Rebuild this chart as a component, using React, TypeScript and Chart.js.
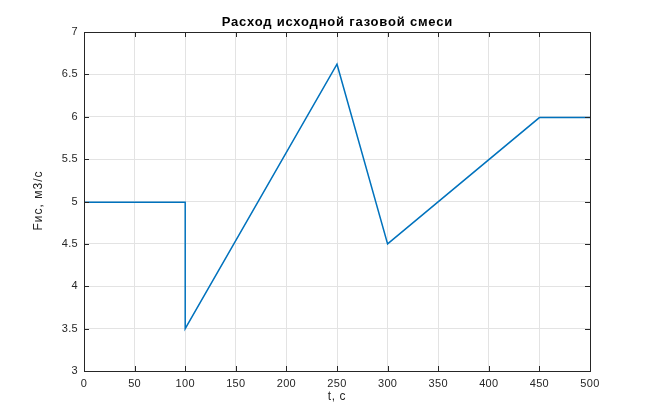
import React, { useEffect, useRef } from "react";
import { Chart, registerables } from "chart.js";

Chart.register(...registerables);

const timeS = [0, 100, 100, 250, 300, 450, 500];
const flowM3s = [4.99, 4.99, 3.5, 6.62, 4.5, 5.99, 5.99];
const xTicks = [0, 50, 100, 150, 200, 250, 300, 350, 400, 450, 500];
const yTicks = [3, 3.5, 4, 4.5, 5, 5.5, 6, 6.5, 7];
const titleText = "Расход исходной газовой смеси";
const xTitle = "t, c";
const yTitle = "Fис, м3/с";

const FONT = "Liberation Sans, Arial, Helvetica, sans-serif";

const decorPlugin = {
  id: "decor",
  beforeDraw(chart: any) {
    chart.ctx.letterSpacing = "0.3px";
  },
  afterDraw(chart: any) {
    const { ctx, chartArea } = chart;
    const { left, right, top, bottom } = chartArea;
    const xs = chart.scales.x;
    const ys = chart.scales.y;
    ctx.save();
    // inner ticks
    ctx.strokeStyle = "#262626";
    ctx.lineWidth = 1;
    const tl = 5;
    ctx.beginPath();
    for (const v of xTicks) {
      const px = Math.round(xs.getPixelForValue(v)) + 0.5;
      ctx.moveTo(px, bottom);
      ctx.lineTo(px, bottom - tl);
      ctx.moveTo(px, top);
      ctx.lineTo(px, top + tl);
    }
    for (const v of yTicks) {
      const py = Math.round(ys.getPixelForValue(v)) + 0.5;
      ctx.moveTo(left, py);
      ctx.lineTo(left + tl, py);
      ctx.moveTo(right, py);
      ctx.lineTo(right - tl, py);
    }
    ctx.stroke();
    // box
    ctx.strokeStyle = "#262626";
    ctx.strokeRect(Math.round(left) + 0.5, Math.round(top) + 0.5, Math.round(right - left), Math.round(bottom - top));
    // title
    ctx.fillStyle = "#000";
    ctx.font = `bold 13px ${FONT}`;
    ctx.letterSpacing = "0.8px";
    ctx.textAlign = "center";
    ctx.textBaseline = "middle";
    ctx.fillText(titleText, (left + right) / 2 + 0.4, 22.5);
    // x title
    ctx.fillStyle = "#262626";
    ctx.font = `12px ${FONT}`;
    ctx.letterSpacing = "0.6px";
    ctx.fillText(xTitle, (left + right) / 2, 397);
    // y title
    ctx.letterSpacing = "1px";
    ctx.translate(39, (top + bottom) / 2 - 1);
    ctx.rotate(-Math.PI / 2);
    ctx.fillText(yTitle, 0, 0);
    ctx.restore();
  },
};

export default function App() {
  const ref = useRef<HTMLCanvasElement>(null);
  useEffect(() => {
    document.body.style.margin = "0";
    const canvas = ref.current!;
    const chart = new Chart(canvas, {
      type: "scatter",
      data: {
        datasets: [
          {
            data: timeS.map((t, i) => ({ x: t, y: flowM3s[i] })),
            showLine: true,
            borderColor: "#0072BD",
            borderWidth: 1.5,
            pointRadius: 0,
            fill: false,
          },
        ],
      },
      options: {
        animation: false,
        responsive: false,
        maintainAspectRatio: false,
        layout: { padding: { left: 0, right: 62, top: 32, bottom: 0 } },
        plugins: { legend: { display: false }, tooltip: { enabled: false }, title: { display: false } },
        scales: {
          x: {
            type: "linear",
            min: 0,
            max: 500,
            afterBuildTicks: (s: any) => {
              s.ticks = xTicks.map((v) => ({ value: v }));
            },
            afterFit: (s: any) => {
              s.height = 46;
            },
            grid: { color: "#e3e3e3", drawTicks: false, lineWidth: 1 },
            border: { display: false },
            ticks: { color: "#262626", font: { family: FONT, size: 11 }, padding: 6, maxRotation: 0, autoSkip: false },
          },
          y: {
            type: "linear",
            min: 3,
            max: 7,
            afterBuildTicks: (s: any) => {
              s.ticks = yTicks.map((v) => ({ value: v }));
            },
            afterFit: (s: any) => {
              s.width = 84;
            },
            grid: { color: "#e3e3e3", drawTicks: false, lineWidth: 1 },
            border: { display: false },
            ticks: {
              color: "#262626",
              font: { family: FONT, size: 11 },
              padding: 6,
              autoSkip: false,
              callback: (v: any) => String(v),
            },
          },
        },
      },
      plugins: [decorPlugin],
    });
    return () => chart.destroy();
  }, []);
  return (
    <div style={{ position: "absolute", left: 0, top: 0, width: 652, height: 417, background: "#fff" }}>
      <canvas ref={ref} width={652} height={417} style={{ width: 652, height: 417 }} />
    </div>
  );
}
